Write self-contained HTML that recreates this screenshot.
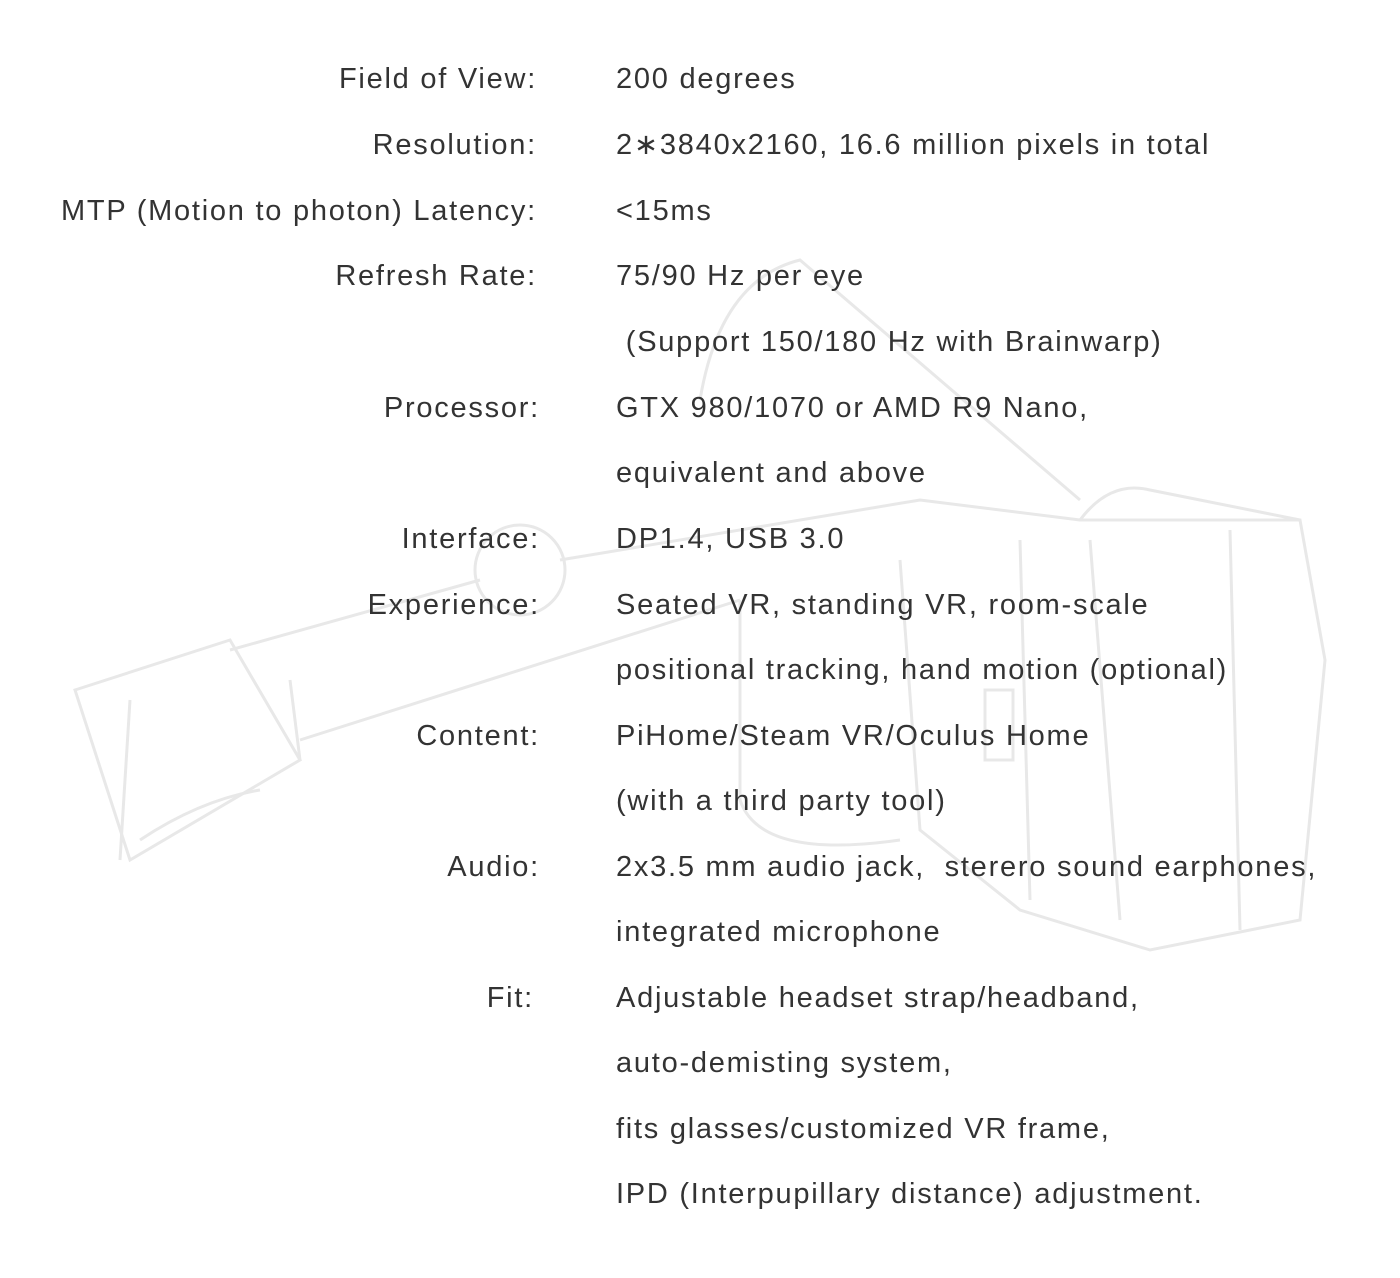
<!DOCTYPE html>
<html><head><meta charset="utf-8"><style>
html,body{margin:0;padding:0;background:#fff;}
body{width:1400px;height:1278px;position:relative;overflow:hidden;font-family:"Liberation Sans",sans-serif;color:#333;}
svg{position:absolute;left:0;top:0;}
.r{position:absolute;font-size:29px;line-height:34px;white-space:nowrap;letter-spacing:1.75px;}
.l{right:863px;text-align:right;}
.v{left:616px;}
</style></head><body>
<svg width="1400" height="1278" fill="none" stroke="#e8e8e8" stroke-width="3">
<path d="M75 690 L230 640 L300 760 L130 860 Z"/>
<path d="M120 860 L130 700 M300 760 L290 680"/>
<path d="M230 650 L480 580 M300 740 L740 600"/>
<circle cx="520" cy="570" r="45"/>
<path d="M560 560 L920 500 L1080 520 L1300 520 L1325 660 L1300 920 L1150 950 L1020 910 L920 830 L900 560"/>
<path d="M1080 520 Q1110 480 1150 490 L1300 520"/>
<path d="M1090 540 L1120 920 M1230 530 L1240 930 M1020 540 L1030 900"/>
<path d="M700 400 Q720 280 800 260 L1080 500"/>
<path d="M740 600 L740 800 Q760 860 900 840"/>
<rect x="985" y="690" width="28" height="70"/>
<path d="M140 840 Q200 800 260 790"/>
</svg>
<div class="r l" style="top:62px">Field of View:</div><div class="r v" style="top:62px">200 degrees</div>
<div class="r l" style="top:128px">Resolution:</div><div class="r v" style="top:128px">2∗3840x2160, 16.6 million pixels in total</div>
<div class="r l" style="top:194px">MTP (Motion to photon) Latency:</div><div class="r v" style="top:194px">&lt;15ms</div>
<div class="r l" style="top:259px">Refresh Rate:</div><div class="r v" style="top:259px">75/90 Hz per eye</div>
<div class="r v" style="top:325px">&nbsp;(Support 150/180 Hz with Brainwarp)</div>
<div class="r l" style="top:391px;right:860px">Processor:</div><div class="r v" style="top:391px">GTX 980/1070 or AMD R9 Nano,</div>
<div class="r v" style="top:456px">equivalent and above</div>
<div class="r l" style="top:522px;right:860px">Interface:</div><div class="r v" style="top:522px">DP1.4, USB 3.0</div>
<div class="r l" style="top:588px;right:860px">Experience:</div><div class="r v" style="top:588px">Seated VR, standing VR, room-scale</div>
<div class="r v" style="top:653px">positional tracking, hand motion (optional)</div>
<div class="r l" style="top:719px;right:860px">Content:</div><div class="r v" style="top:719px">PiHome/Steam VR/Oculus Home</div>
<div class="r v" style="top:784px">(with a third party tool)</div>
<div class="r l" style="top:850px;right:860px">Audio:</div><div class="r v" style="top:850px">2x3.5 mm audio jack,&nbsp; sterero sound earphones,</div>
<div class="r v" style="top:915px">integrated microphone</div>
<div class="r l" style="top:981px;right:866px">Fit:</div><div class="r v" style="top:981px">Adjustable headset strap/headband,</div>
<div class="r v" style="top:1046px">auto-demisting system,</div>
<div class="r v" style="top:1112px">fits glasses/customized VR frame,</div>
<div class="r v" style="top:1177px">IPD (Interpupillary distance) adjustment.</div>
</body></html>
